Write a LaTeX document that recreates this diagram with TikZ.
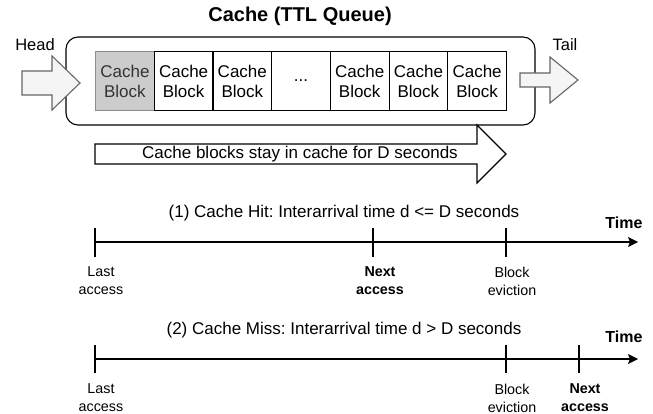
\documentclass[tikz,border=0pt]{standalone}
\usepackage{fontspec}
\setmainfont{Liberation Sans}
\usetikzlibrary{arrows.meta}
\frenchspacing
\definecolor{greyfill}{HTML}{CCCCCC}
\definecolor{greyline}{HTML}{8C8C8C}
\definecolor{arrowfill}{HTML}{F5F5F5}
\definecolor{arrowline}{HTML}{666666}
\definecolor{greytext}{HTML}{333333}
\tikzset{
  blk/.style={draw, line width=1.1pt, minimum width=58.7pt, minimum height=59pt, inner sep=0pt, align=center, anchor=north west, font=\fontsize{17}{20}\selectfont},
  hotblk/.style={blk, fill=greyfill, draw=greyline, text=greytext},
  blockarrow/.style={fill=arrowfill, draw=arrowline, line width=1.1pt},
  bigarrow/.style={fill=white, draw=black, line width=1.1pt},
  caption/.style={font=\fontsize{17}{20}\selectfont, inner sep=0pt},
  small/.style={font=\fontsize{14.3}{18}\selectfont, align=center, inner sep=0pt},
  smallbold/.style={font=\fontsize{14.3}{18}\selectfont\bfseries, align=center, inner sep=0pt},
  timelbl/.style={font=\fontsize{16}{19}\selectfont\bfseries, inner sep=0pt},
  axis/.style={line width=1.2pt, -{Stealth[length=10pt,width=10pt,inset=2pt]}},
  tick/.style={line width=1.2pt}
}
\begin{document}
\begin{tikzpicture}[x=1pt,y=-1pt]
\useasboundingbox (0,0) rectangle (653,414);

% title
\node[font=\fontsize{20}{24}\selectfont\bfseries, inner sep=0pt] (title) at (300,16) {Cache (TTL Queue)};

% queue container
\draw[line width=1.1pt, rounded corners=12pt] (66,37) rectangle (535,125);
\coordinate (qbox) at (300,81);

% blocks
\node[hotblk] (b1) at (95,51) {Cache\\Block};
\node[blk] (b2) at (153.7,51) {Cache\\Block};
\node[blk] (b3) at (212.4,51) {Cache\\Block};
\node[blk] (b4) at (271.1,51) {...};
\node[blk] (b5) at (329.8,51) {Cache\\Block};
\node[blk] (b6) at (388.5,51) {Cache\\Block};
\node[blk] (b7) at (447.2,51) {Cache\\Block};

% head / tail
\node[font=\fontsize{16.5}{19}\selectfont, inner sep=0pt] (head) at (35,45) {Head};
\node[font=\fontsize{16.5}{19}\selectfont, inner sep=0pt] (tail) at (565,45) {Tail};
\draw[blockarrow] (22,71) -- (52,71) -- (52,56) -- (80,83) -- (52,110) -- (52,95) -- (22,95) -- cycle;
\draw[blockarrow] (520,73) -- (550,73) -- (550,57) -- (578,80) -- (550,103) -- (550,87) -- (520,87) -- cycle;

% big arrow
\draw[bigarrow] (95,144) -- (477,144) -- (477,125) -- (506,154) -- (477,183) -- (477,164) -- (95,164) -- cycle;
\node[caption] (stay) at (300,154) {Cache blocks stay in cache for D seconds};

% timeline 1
\node[caption] (cap1) at (344,213) {(1) Cache Hit: Interarrival time d <= D seconds};
\node[timelbl] (time1) at (624,223) {Time};
\coordinate (s1) at (95,242);
\coordinate (e1) at (638,242);
\draw[axis] (s1) -- (e1);
\coordinate (t1a) at (95,228); \coordinate (t1b) at (95,257);
\coordinate (t2a) at (373,228); \coordinate (t2b) at (373,257);
\coordinate (t3a) at (506,228); \coordinate (t3b) at (506,257);
\draw[tick] (t1a) -- (t1b);
\draw[tick] (t2a) -- (t2b);
\draw[tick] (t3a) -- (t3b);
\node[small] (last1) at (101,281) {Last\\access};
\node[smallbold] (next1) at (380,281) {Next\\access};
\node[small] (evict1) at (512,281) {Block\\eviction};

% timeline 2
\node[caption] (cap2) at (344,330) {(2) Cache Miss: Interarrival time d > D seconds};
\node[timelbl] (time2) at (624,337) {Time};
\coordinate (s2) at (95,359);
\coordinate (e2) at (638,359);
\draw[axis] (s2) -- (e2);
\coordinate (u1a) at (95,345); \coordinate (u1b) at (95,373);
\coordinate (u2a) at (506,345); \coordinate (u2b) at (506,373);
\coordinate (u3a) at (579,345); \coordinate (u3b) at (579,373);
\draw[tick] (u1a) -- (u1b);
\draw[tick] (u2a) -- (u2b);
\draw[tick] (u3a) -- (u3b);
\node[small] (last2) at (101,398) {Last\\access};
\node[small] (evict2) at (512,398) {Block\\eviction};
\node[smallbold] (next2) at (585,398) {Next\\access};
\end{tikzpicture}
\end{document}
